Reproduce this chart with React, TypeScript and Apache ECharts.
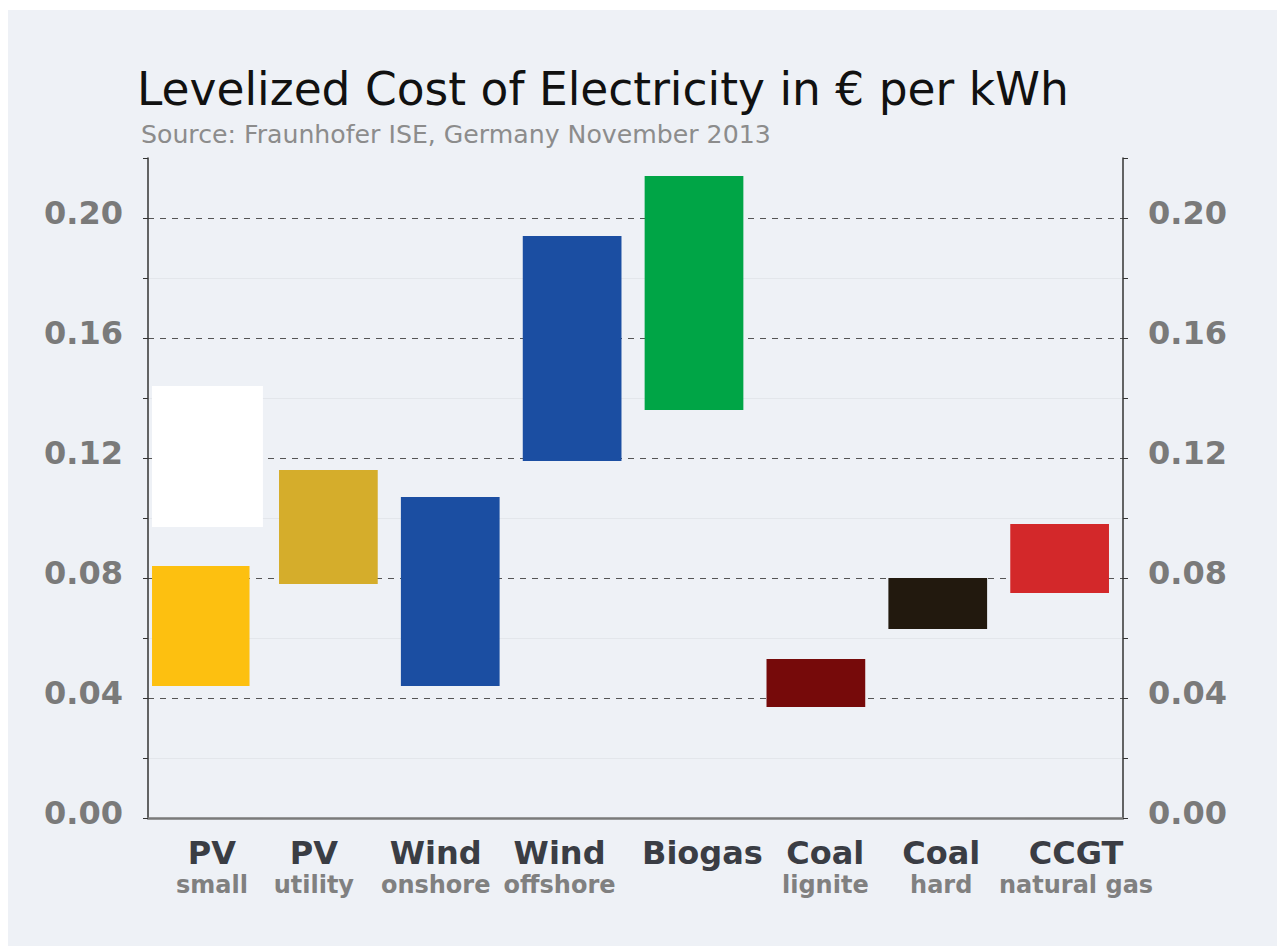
import React, { useEffect, useRef } from "react";
import * as echarts from "echarts";

// ---- data ----
const categories = ["PV", "PV", "Wind", "Wind", "Biogas", "Coal", "Coal", "CCGT"];
const subLabels = ["small", "utility", "onshore", "offshore", "", "lignite", "hard", "natural gas"];
const lowValues = [0.044, 0.078, 0.044, 0.119, 0.136, 0.037, 0.063, 0.075];
const highValues = [0.084, 0.116, 0.107, 0.194, 0.214, 0.053, 0.080, 0.098];
const pvSmallUpper = [0.097, 0.144];
const barColors = ["#FDC010", "#D5AD2B", "#1B4EA2", "#1B4EA2", "#00A546", "#760A0A", "#22190E", "#D3282A"];
const yTicks = [0, 0.04, 0.08, 0.12, 0.16, 0.2];

// horizontal nudges of the category labels (px), style only
const labelNudge = [3, -17, -17, -15, 6, 7, 1, 14];

const FONT = "DejaVu Sans";

function makeRangeSeries(name: string, data: number[][], colors: string[], leftRatio: number, widthRatio: number) {
  return {
    type: "custom",
    name,
    data,
    encode: { x: 0, y: [1, 2] },
    renderItem: (params: any, api: any) => {
      const idx = api.value(0);
      const lo = api.coord([idx, api.value(1)]);
      const hi = api.coord([idx, api.value(2)]);
      const band = api.size([1, 0])[0];
      const x0 = lo[0] - band / 2 + band * leftRatio;
      return {
        type: "rect",
        shape: { x: x0, y: hi[1], width: band * widthRatio, height: lo[1] - hi[1] },
        style: { fill: colors[params.dataIndex] },
      };
    },
  };
}

export default function App() {
  const ref = useRef<HTMLDivElement>(null);
  useEffect(() => {
    if (!ref.current) return;
    const chart = echarts.init(ref.current, null, { renderer: "svg" });
    const catItems = categories.map((c, i) => {
      const d = labelNudge[i];
      return {
        value: `${c}\n${subLabels[i]}`,
        textStyle: { padding: d >= 0 ? [0, 0, 0, 2 * d] : [0, -2 * d, 0, 0] },
      };
    });
    const mainData = categories.map((_, i) => [i, lowValues[i], highValues[i]]).slice(1);
    const mainColors = barColors.slice(1);
    const yAxisCommon = {
      type: "value",
      min: 0,
      max: 0.22,
      interval: 0.04,
      axisLine: { show: true, lineStyle: { color: "#333", width: 1.5 } },
      axisTick: { show: true, length: 5, lineStyle: { color: "#333" } },
      minorTick: { show: true, splitNumber: 2, length: 5, lineStyle: { color: "#333" } },
      axisLabel: {
        margin: 25,
        fontFamily: FONT,
        fontSize: 32,
        fontWeight: "bold",
        color: "#7a7a7a",
        verticalAlign: "bottom",
        lineHeight: 10,
        formatter: (v: number) => (yTicks.some((t) => Math.abs(t - v) < 1e-6) ? v.toFixed(2) : ""),
      },
    };
    chart.setOption({
      animation: false,
      backgroundColor: "#EEF1F6",
      graphic: [
        {
          type: "text",
          left: 129,
          top: 56,
          style: { text: "Levelized Cost of Electricity in € per kWh", font: `45.5px '${FONT}'`, fill: "#111" },
        },
        {
          type: "text",
          left: 133,
          top: 112,
          style: { text: "Source: Fraunhofer ISE, Germany November 2013", font: `25.2px '${FONT}'`, fill: "#8c8c8c" },
        },
      ],
      grid: { left: 140, right: 154, top: 148, bottom: 128, containLabel: false },
      xAxis: {
        type: "category",
        data: catItems,
        axisLine: { show: true, lineStyle: { color: "#7a7a7a", width: 2.5 } },
        axisTick: { show: false },
        axisLabel: {
          interval: 0,
          margin: 18,
          formatter: (v: string) => {
            const [a, b] = v.split("\n");
            return b ? `{a|${a}}\n{b|${b}}` : `{a|${a}}`;
          },
          rich: {
            a: { fontFamily: FONT, fontSize: 32, fontWeight: "bold", color: "#3a3d44", lineHeight: 34 },
            b: { fontFamily: FONT, fontSize: 24, fontWeight: "bold", color: "#808080", lineHeight: 30 },
          },
        },
      },
      yAxis: [
        {
          ...yAxisCommon,
          position: "left",
          splitLine: { show: true, showMinLine: false, showMaxLine: false, lineStyle: { color: "#555", type: [6, 6], width: 1 } },
          minorSplitLine: { show: true, lineStyle: { color: "#E3E6EB", width: 1 } },
        },
        {
          ...yAxisCommon,
          position: "right",
          splitLine: { show: false },
        },
      ],
      series: [
        makeRangeSeries("PV small (low)", [[0, lowValues[0], highValues[0]]], [barColors[0]], 0.033, 0.80),
        makeRangeSeries("PV small (high)", [[0, pvSmallUpper[0], pvSmallUpper[1]]], ["#FFFFFF"], 0.033, 0.91),
        makeRangeSeries("LCOE range", mainData, mainColors, 0.075, 0.81),
      ],
    });
    return () => chart.dispose();
  }, []);
  return (
    <div
      ref={ref}
      style={{ position: "fixed", left: 8, top: 10, width: 1269, height: 936 }}
    />
  );
}
